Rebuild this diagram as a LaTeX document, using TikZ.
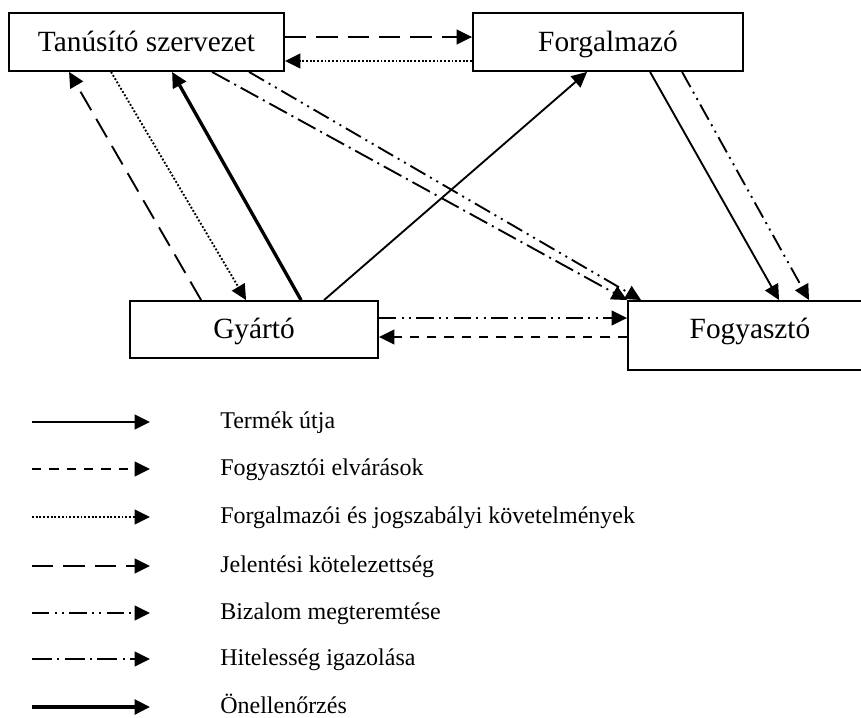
\documentclass[tikz,border=0pt]{standalone}
\usepackage{fontspec}
\setmainfont{Liberation Serif}
\usetikzlibrary{arrows.meta,calc}

\begin{document}
\begin{tikzpicture}[x=0.75pt,y=-0.75pt,
  box/.style={draw,line width=1.4pt,inner sep=0pt,text height=17pt,text depth=3.5pt,
    minimum height=43.5pt,font=\fontsize{22}{26}\selectfont},
  leg/.style={anchor=west,inner sep=0pt,text height=13pt,text depth=4pt,
    font=\fontsize{18}{22}\selectfont},
  >={Triangle[length=11.5pt,width=11pt]},
  termek/.style={->,line width=1.4pt},
  elvaras/.style={->,line width=1.4pt,dash pattern=on 7pt off 6pt},
  kovetelmeny/.style={->,line width=1.4pt,dash pattern=on 1.4pt off 1.4pt},
  jelentes/.style={->,line width=1.4pt,dash pattern=on 16pt off 7.5pt},
  bizalom/.style={->,line width=1.4pt,dash pattern=on 13pt off 4pt on 1.5pt off 4pt on 1.5pt off 4pt},
  hiteles/.style={->,line width=1.4pt,dash pattern=on 15pt off 4pt on 1.5pt off 4pt},
  onell/.style={->,line width=2.5pt}]
  \useasboundingbox (0,0) rectangle (861,718);

  \node[box,minimum width=206.25pt] (tan) at (146.5,42) {Tanúsító szervezet};
  \node[box,minimum width=202.5pt] (forg) at (608,42) {Forgalmazó};
  \node[box,minimum width=186pt,minimum height=42.75pt] (gy) at (254,329.5) {Gyártó};
  \node[box,minimum width=183pt,minimum height=51.75pt,text depth=13pt] (fogy) at (750,335.5) {Fogyasztó};

  \draw[jelentes] ($(tan.east)+(0,-5)$) -- ($(forg.west)+(0,-5)$);
  \draw[kovetelmeny] ($(forg.west)+(0,19)$) -- ($(tan.east)+(0,19)$);
  \draw[jelentes] ($(gy.north west)+(72,0)$) -- ($(tan.south west)+(61,0)$);
  \draw[kovetelmeny] ($(tan.south west)+(103,0)$) -- ($(gy.north west)+(117,0)$);
  \draw[onell] ($(gy.north west)+(172,0)$) -- ($(tan.south west)+(164,0)$);
  \draw[termek] ($(gy.north west)+(195,0)$) -- ($(forg.south west)+(115,0)$);
  \draw[hiteles] ($(tan.south west)+(204,0)$) -- (fogy.north west);
  \draw[bizalom] ($(tan.south west)+(241,0)$) -- ($(fogy.north west)+(14,0)$);
  \draw[termek] ($(forg.south west)+(178,0)$) -- ($(fogy.north west)+(152,0)$);
  \draw[bizalom] ($(forg.south west)+(210,0)$) -- ($(fogy.north west)+(182,0)$);
  \coordinate (g1) at ($(gy.east)+(0,-11.5)$);
  \coordinate (g2) at ($(gy.east)+(0,7.5)$);
  \draw[bizalom] (g1) -- (g1 -| fogy.west);
  \draw[elvaras] (g2 -| fogy.west) -- (g2);

  % jelmagyarazat
  \node[leg] (l1) at (220,422) {Termék útja};
  \node[leg] (l2) at (220,469) {Fogyasztói elvárások};
  \node[leg] (l3) at (220,517) {Forgalmazói és jogszabályi követelmények};
  \node[leg] (l4) at (220,566) {Jelentési kötelezettség};
  \node[leg] (l5) at (220,613) {Bizalom megteremtése};
  \node[leg] (l6) at (220,659) {Hitelesség igazolása};
  \node[leg] (l7) at (220,707) {Önellenőrzés};
  \draw[termek] ($(l1.west)+(-188,0)$) -- ($(l1.west)+(-70,0)$);
  \draw[elvaras] ($(l2.west)+(-188,0)$) -- ($(l2.west)+(-70,0)$);
  \draw[kovetelmeny] ($(l3.west)+(-188,0)$) -- ($(l3.west)+(-70,0)$);
  \draw[jelentes] ($(l4.west)+(-188,0)$) -- ($(l4.west)+(-70,0)$);
  \draw[bizalom] ($(l5.west)+(-188,0)$) -- ($(l5.west)+(-70,0)$);
  \draw[hiteles] ($(l6.west)+(-188,0)$) -- ($(l6.west)+(-70,0)$);
  \draw[onell] ($(l7.west)+(-188,0)$) -- ($(l7.west)+(-70,0)$);
\end{tikzpicture}
\end{document}
